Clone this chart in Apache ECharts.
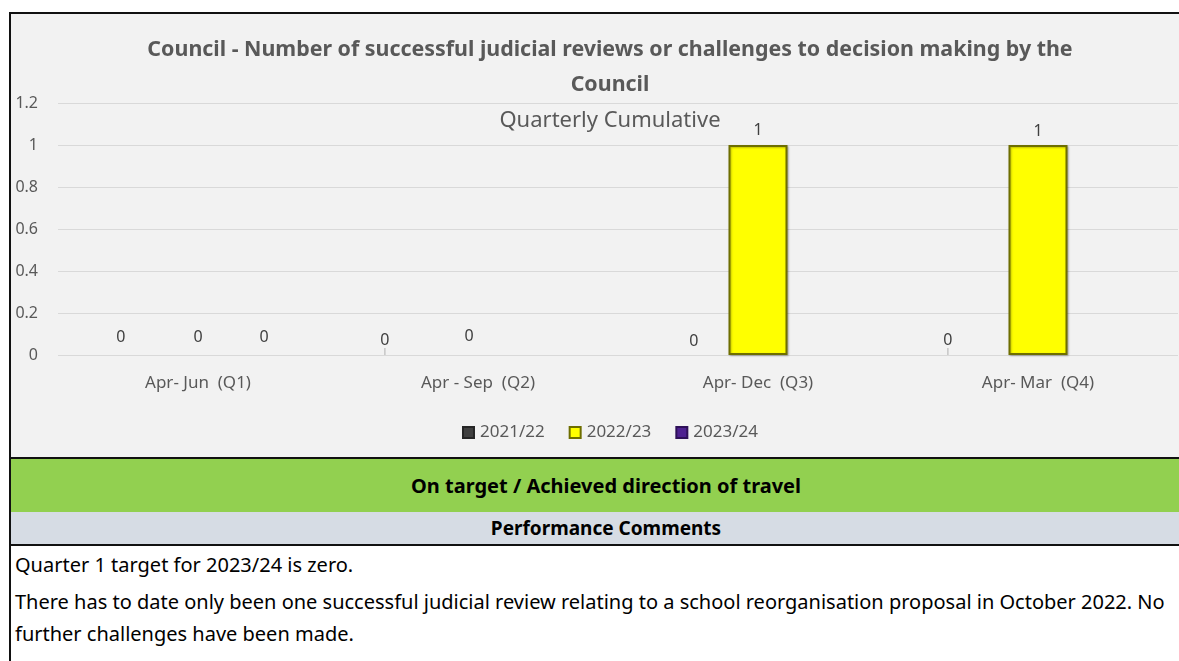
<!DOCTYPE html>
<html>
<head>
<meta charset="utf-8">
<script src="https://cdn.jsdelivr.net/npm/echarts@6/dist/echarts.min.js"></script>
<style>
  html, body { margin: 0; padding: 0; background: #fff; width: 1179px; height: 661px; overflow: hidden; }
  body { position: relative; font-family: 'Noto Sans', sans-serif; }
  .panel { position: absolute; left: 9px; top: 12px; width: 1240px; height: 444px; background: #f2f2f2; border: 2px solid #111; }
  #chart { position: absolute; left: 0; top: 0; width: 1220px; height: 458px; }
  .band { position: absolute; left: 9px; width: 1240px; border: 2px solid #111; text-align: center; font-weight: bold; color: #000; white-space: nowrap; }
  .band span { position: absolute; left: 0; width: 1190px; text-align: center; }
  .status { top: 457px; height: 53px; line-height: 53px; background: #92d050; font-size: 20px; }
  .head { top: 512px; height: 32px; line-height: 32px; background: #d6dce4; font-size: 19px; border-top: 0; }
  .comments { position: absolute; left: 9px; top: 546px; width: 1240px; height: 120px; border-left: 2px solid #111; background: #fff; }
  .comments div { position: absolute; left: 4px; font-size: 20px; color: #000; white-space: nowrap; }
</style>
</head>
<body>
<div class="panel"></div>
<div id="chart"></div>
<div class="band status"><span>On target / Achieved direction of travel</span></div>
<div class="band head"><span>Performance Comments</span></div>
<div class="comments">
  <div style="top:5px">Quarter 1 target for 2023/24 is zero.</div>
  <div style="top:42px">There has to date only been one successful judicial review relating to a school reorganisation proposal in October 2022. No</div>
  <div style="top:74px">further challenges have been made.</div>
</div>
<script>
const categories = ['Apr- Jun  (Q1)', 'Apr - Sep  (Q2)', 'Apr- Dec  (Q3)', 'Apr- Mar  (Q4)'];
const seriesNames = ['2021/22', '2022/23', '2023/24'];
const values2122 = [0, 0, 0, 0];
const values2223 = [0, 0, 1, 1];
const values2324 = [0, null, null, null];
const yTicks = {min: 0, max: 1.2, interval: 0.2};

// hand-placed labels like the original sheet: [series][point] -> [dx, dy]
const labelNudge = [
    [[-11, -3], [-27, 0], [2, 1], [-24, 0]],
    [[0, -3], [-9, -4], [0, 0], [0, 1]],
    [[0, -3], [0, 0], [0, 0], [0, 0]]
];
const leaderLines = {'0-1': true, '0-3': true};

const colors = ['#404040', '#ffff00', '#4e2190'];
const borders = ['#262626', '#6e6e00', '#2e1058'];

const grey = '#595959';

function makeSeries (values, s) {
    return {
        name: seriesNames[s],
        type: 'bar',
        barWidth: 59,
        barGap: '12%',
        data: values.map((v, i) => {
            let item = {value: v};
            // zero-height bars draw nothing in the original
            if (v === 0) {
                item.itemStyle = {borderWidth: 0, shadowBlur: 0, shadowOffsetX: 0, shadowOffsetY: 0};
            }
            if (leaderLines[s + '-' + i]) {
                item.labelLine = {show: true};
            }
            return item;
        }),
        itemStyle: {
            color: colors[s],
            borderColor: borders[s],
            borderWidth: 2,
            shadowColor: 'rgba(0,0,0,0.25)',
            shadowBlur: 2,
            shadowOffsetX: 1,
            shadowOffsetY: 1
        },
        label: {
            show: true,
            position: 'top',
            distance: 7,
            color: '#404040',
            fontSize: 16,
            fontFamily: 'Noto Sans'
        },
        labelLine: {
            show: false,
            lineStyle: {color: '#b0b0b0', width: 1}
        },
        labelLayout: params => {
            let [dx, dy] = labelNudge[params.seriesIndex][params.dataIndex];
            return {dx, dy};
        }
    };
}

const chart = echarts.init(document.getElementById('chart'));
chart.setOption({
    animation: false,
    title: [{
        text: 'Council - Number of successful judicial reviews or challenges to decision making by the\nCouncil',
        left: 'center',
        top: 27,
        textStyle: {color: grey, fontSize: 21.4, fontWeight: 'bold', fontFamily: 'Noto Sans', lineHeight: 35}
    }, {
        text: 'Quarterly Cumulative',
        left: 'center',
        top: 102,
        textStyle: {color: grey, fontSize: 22, fontWeight: 'normal', fontFamily: 'Noto Sans', lineHeight: 28}
    }],
    legend: {
        data: seriesNames,
        left: 'center',
        top: 419,
        itemWidth: 11,
        itemHeight: 11,
        itemGap: 24,
        icon: 'rect',
        textStyle: {color: grey, fontSize: 17, fontFamily: 'Noto Sans', padding: [0, 0, 0, 1]}
    },
    grid: {left: 58, top: 103, width: 1120, height: 252, containLabel: false},
    xAxis: {
        type: 'category',
        data: categories,
        axisLine: {show: false},
        axisTick: {show: false},
        axisLabel: {color: grey, fontSize: 17, fontFamily: 'Noto Sans', margin: 20}
    },
    yAxis: {
        type: 'value',
        min: yTicks.min,
        max: yTicks.max,
        interval: yTicks.interval,
        axisLine: {show: false},
        axisTick: {show: false},
        splitLine: {lineStyle: {color: '#d9d9d9', width: 1}},
        axisLabel: {color: grey, fontSize: 16, fontFamily: 'Noto Sans', margin: 20}
    },
    series: [
        makeSeries(values2122, 0),
        makeSeries(values2223, 1),
        makeSeries(values2324, 2)
    ]
});
</script>
</body>
</html>
